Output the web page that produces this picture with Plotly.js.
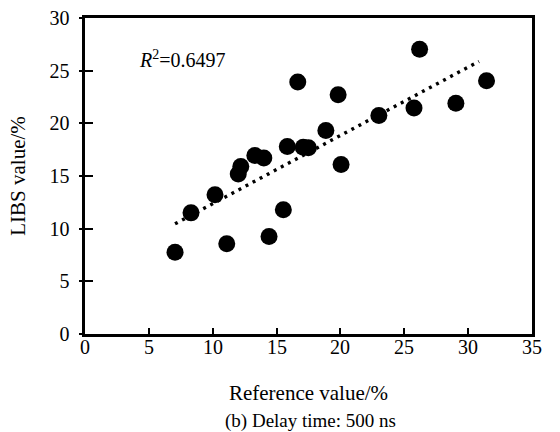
<!DOCTYPE html>
<html>
<head>
<meta charset="utf-8">
<script src="https://cdn.plot.ly/plotly-3.0.1.min.js"></script>
<style>html,body{margin:0;padding:0;background:#fff;}#chart{width:560px;height:432px;}</style>
</head>
<body>
<div id="chart"></div>
<script>
// Reference values (%) and LIBS values (%)
var referenceValues = [7.05, 8.3, 10.18, 11.1, 12.0, 12.2, 13.3, 14.0, 14.41, 15.53, 15.84, 16.66, 17.09, 17.49, 18.86, 19.82, 20.05, 23.01, 25.76, 26.2, 29.04, 31.44];
var libsValues      = [7.76, 11.5, 13.21, 8.56, 15.2, 15.9, 16.95, 16.7, 9.25, 11.79, 17.8, 23.92, 17.74, 17.68, 19.33, 22.71, 16.09, 20.75, 21.46, 27.04, 21.9, 24.04];
// Linear trendline end points
var trendX = [7.05, 30.85];
var trendY = [10.46, 25.88];
var r2Text = '<i>R</i><sup>2</sup>=0.6497';
var xTicks = [0, 5, 10, 15, 20, 25, 30, 35];
var yTicks = [0, 5, 10, 15, 20, 25, 30];

var FONT = 'Liberation Serif, Times New Roman, serif';

var traces = [
  {
    x: trendX, y: trendY, type: 'scatter', mode: 'lines',
    line: {color: '#000', width: 3.4, dash: '3px,5px'},
    hoverinfo: 'skip', showlegend: false
  },
  {
    x: referenceValues, y: libsValues, type: 'scatter', mode: 'markers',
    marker: {color: '#000', size: 17, line: {width: 0}},
    showlegend: false
  },
  {
    x: [null], y: [null], xaxis: 'x', yaxis: 'y2', type: 'scatter', mode: 'markers',
    hoverinfo: 'skip', showlegend: false
  }
];

// x tick labels placed just under the frame, at the axis' own tick values
var xTickAnn = xTicks.map(function (v) {
  return {
    text: String(v), xref: 'x', yref: 'paper', x: v, y: -0.042,
    xanchor: 'center', yanchor: 'middle', showarrow: false,
    font: {family: FONT, size: 20, color: '#000'}
  };
});

var layout = {
  width: 560, height: 432,
  margin: {l: 85, r: 28, t: 18, b: 98},
  paper_bgcolor: '#fff', plot_bgcolor: '#fff',
  font: {family: FONT, color: '#000', size: 20},
  showlegend: false,
  xaxis: {
    range: [0, 35], tickvals: xTicks, ticktext: xTicks.map(String),
    showticklabels: false,
    showgrid: false, zeroline: false,
    showline: true, mirror: true, linecolor: '#000', linewidth: 2.6,
    ticks: 'inside', ticklen: 6, tickwidth: 2, tickcolor: '#000',
    title: {text: 'Reference value/%', font: {family: FONT, size: 21, color: '#000'}, standoff: 50},
    fixedrange: true
  },
  yaxis: {
    range: [0, 30], tickvals: yTicks, ticktext: yTicks.map(String),
    showgrid: false, zeroline: false,
    showline: true, mirror: true, linecolor: '#000', linewidth: 2.6,
    ticks: 'inside', ticklen: 8, tickwidth: 2, tickcolor: '#000',
    ticklabelstandoff: 9,
    tickfont: {family: FONT, size: 20, color: '#000'},
    title: {text: 'LIBS value/%', font: {family: FONT, size: 21, color: '#000'}, standoff: 18},
    fixedrange: true
  },
  yaxis2: {
    overlaying: 'y', side: 'left', anchor: 'x', range: [0, 30], tickvals: yTicks,
    showticklabels: false, showgrid: false, zeroline: false, showline: false,
    ticks: 'outside', ticklen: 5, tickwidth: 2, tickcolor: '#000', fixedrange: true
  },
  annotations: [
    {
      text: r2Text, xref: 'x', yref: 'y', x: 4.1, y: 26.1,
      xanchor: 'left', yanchor: 'middle', showarrow: false,
      font: {family: FONT, size: 20, color: '#000'}
    },
    {
      text: '(b) Delay time: 500 ns', xref: 'paper', yref: 'paper', x: 0.505, y: -0.275,
      xanchor: 'center', yanchor: 'middle', showarrow: false,
      font: {family: FONT, size: 19, color: '#000'}
    }
  ].concat(xTickAnn)
};

Plotly.newPlot('chart', traces, layout, {displayModeBar: false, staticPlot: true});
</script>
</body>
</html>
